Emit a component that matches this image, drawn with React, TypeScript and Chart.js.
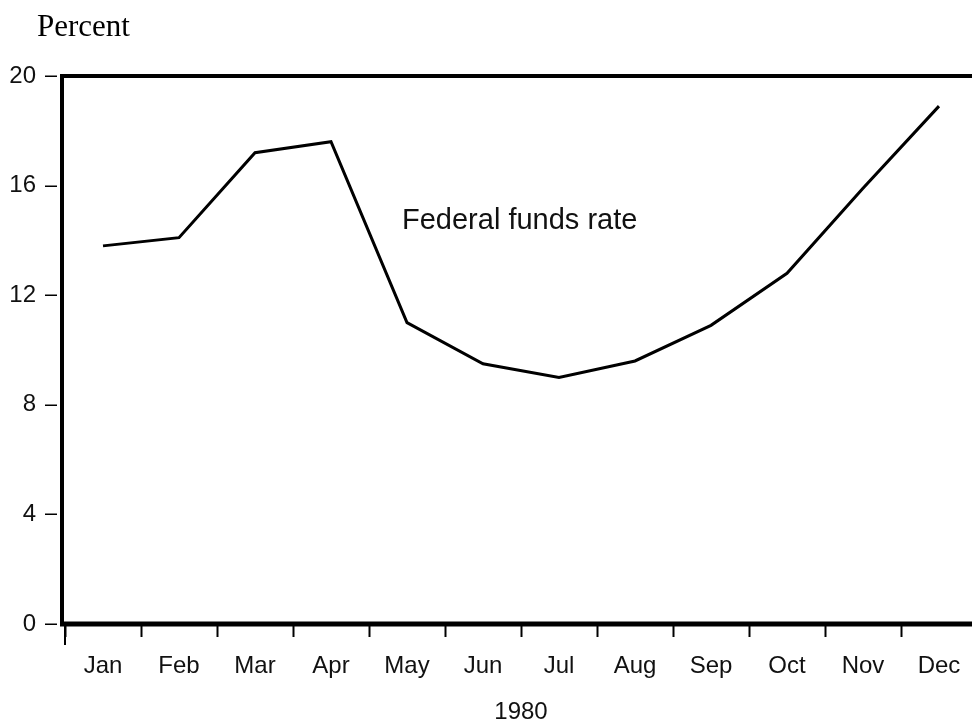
import React, { useEffect, useRef } from 'react';
import { Chart, registerables } from 'chart.js';

Chart.register(...registerables);

const months = ['Jan', 'Feb', 'Mar', 'Apr', 'May', 'Jun', 'Jul', 'Aug', 'Sep', 'Oct', 'Nov', 'Dec'];
const fedFunds = [13.8, 14.1, 17.2, 17.6, 11.0, 9.5, 9.0, 9.6, 10.9, 12.8, 15.9, 18.9];
const yMin = 0;
const yMax = 20;
const yStep = 4;
const yearLabel = '1980';
const unitLabel = 'Percent';
const seriesLabel = 'Federal funds rate';

const W = 1000;
const H = 725;

const framePlugin = {
  id: 'frameAndText',
  afterDraw(chart: any) {
    const { ctx, chartArea: a, scales } = chart;
    const ys = scales.y;
    const xs = scales.x;
    ctx.save();
    ctx.strokeStyle = '#000';
    ctx.lineCap = 'butt';

    // y tick dashes
    ctx.lineWidth = 1.5;
    for (const t of ys.ticks) {
      const py = Math.round(ys.getPixelForValue(t.value)) + 0.25;
      ctx.beginPath();
      ctx.moveTo(a.left - 20, py);
      ctx.lineTo(a.left - 8, py);
      ctx.stroke();
    }

    // first long x tick at the origin
    ctx.lineWidth = 2;
    ctx.beginPath();
    ctx.moveTo(a.left, a.bottom);
    ctx.lineTo(a.left, a.bottom + 21);
    ctx.stroke();

    // frame
    ctx.lineWidth = 4;
    ctx.beginPath();
    ctx.moveTo(a.left - 3, a.top - 2);
    ctx.lineTo(a.left - 3, a.bottom + 2);
    ctx.stroke();
    ctx.beginPath();
    ctx.moveTo(a.left - 5, a.top);
    ctx.lineTo(W, a.top);
    ctx.stroke();
    ctx.lineWidth = 5;
    ctx.beginPath();
    ctx.moveTo(a.left - 5, a.bottom);
    ctx.lineTo(W, a.bottom);
    ctx.stroke();

    // texts
    ctx.fillStyle = '#000';
    ctx.textAlign = 'left';
    ctx.textBaseline = 'alphabetic';
    ctx.font = '31px "Liberation Serif", "Times New Roman", serif';
    ctx.fillText(unitLabel, 37, 36);

    ctx.fillStyle = '#111';
    ctx.font = '29px "Liberation Sans", Arial, sans-serif';
    const tx = xs.getPixelForValue(4) - 5;
    const ty = ys.getPixelForValue(14.4);
    ctx.fillText(seriesLabel, tx, ty);
    ctx.restore();
  },
};

export default function App() {
  const ref = useRef<HTMLCanvasElement | null>(null);

  useEffect(() => {
    if (!ref.current) return;
    const chart = new Chart(ref.current, {
      type: 'line',
      data: {
        labels: months,
        datasets: [
          {
            label: seriesLabel,
            data: fedFunds,
            borderColor: '#000',
            borderWidth: 3,
            pointRadius: 0,
            tension: 0,
            borderJoinStyle: 'miter',
            fill: false,
          },
        ],
      },
      options: {
        responsive: false,
        animation: false,
        devicePixelRatio: 1,
        layout: { padding: { top: 76, right: 23, bottom: 0, left: 0 } },
        plugins: {
          legend: { display: false },
          tooltip: { enabled: false },
          title: { display: false },
        },
        scales: {
          x: {
            type: 'category',
            offset: true,
            border: { display: false },
            grid: {
              offset: true,
              drawOnChartArea: false,
              drawTicks: true,
              tickLength: 13,
              tickWidth: 2,
              tickColor: '#000',
              color: '#000',
            },
            ticks: {
              color: '#111',
              padding: 15,
              maxRotation: 0,
              autoSkip: false,
              font: { family: '"Liberation Sans", Arial, sans-serif', size: 24 },
            },
            title: {
              display: true,
              text: yearLabel,
              color: '#111',
              padding: { top: 0, bottom: 0 },
              font: { family: '"Liberation Sans", Arial, sans-serif', size: 24, lineHeight: '26px' },
            },
            afterFit: (s: any) => {
              s.height = 101;
            },
          },
          y: {
            min: yMin,
            max: yMax,
            border: { display: false },
            grid: { display: false, drawTicks: false },
            ticks: {
              stepSize: yStep,
              color: '#111',
              padding: 29,
              font: { family: '"Liberation Sans", Arial, sans-serif', size: 24 },
            },
            afterFit: (s: any) => {
              s.width = 65;
            },
          },
        },
      },
      plugins: [framePlugin],
    });
    return () => chart.destroy();
  }, []);

  return (
    <div
      style={{
        position: 'absolute',
        left: 0,
        top: 0,
        width: 972,
        height: 725,
        overflow: 'hidden',
        background: '#fff',
      }}
    >
      <canvas ref={ref} width={W} height={H} style={{ display: 'block', width: W, height: H }} />
    </div>
  );
}
